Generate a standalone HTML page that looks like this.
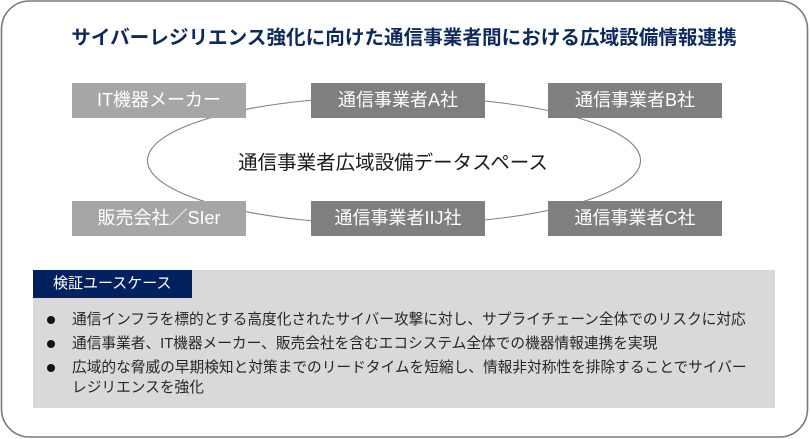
<!DOCTYPE html>
<html><head><meta charset="utf-8">
<style>
html,body{margin:0;padding:0;background:#fff;}
body{width:810px;height:439px;position:relative;overflow:hidden;font-family:"Liberation Sans","Noto Sans CJK JP",sans-serif;}
.abs{position:absolute;white-space:nowrap;}
.box{position:absolute;height:35px;width:174px;color:#fff;font-size:18px;line-height:35px;text-align:center;}
.lt{background:#a6a6a6;}
.dk{background:#7f7f7f;}
.title{left:0;width:808px;top:26px;text-align:center;font-size:19.6px;line-height:24px;color:#0e2a5c;font-weight:bold;}
.center{left:0;width:786px;top:150px;text-align:center;font-size:19.5px;line-height:26px;color:#1a1a1a;}
.panel{left:33px;top:270px;width:742px;height:138px;background:#d9d9d9;}
.hdr{left:33px;top:270px;width:159px;height:28px;background:#002060;color:#fff;font-size:15px;line-height:28px;}
.hdr span{position:absolute;left:20px;top:0;}
.li{position:absolute;left:72px;font-size:14.7px;line-height:20px;color:#262626;}
.dot{position:absolute;left:47px;width:8px;height:8px;border-radius:50%;background:#111;}
</style></head><body>
<svg class="abs" style="left:0;top:0" width="810" height="439">
  <rect x="1.5" y="1" width="806" height="436" rx="28" ry="28" fill="#fff" stroke="#7a7a7a" stroke-width="1.6"/>
  <ellipse cx="394" cy="160.5" rx="246.5" ry="64" fill="none" stroke="#808080" stroke-width="1.1"/>
</svg>
<div class="abs title">サイバーレジリエンス強化に向けた通信事業者間における広域設備情報連携</div>

<div class="box lt" style="left:72px;top:83px;">IT機器メーカー</div>
<div class="box dk" style="left:311px;top:83px;">通信事業者A社</div>
<div class="box dk" style="left:548px;top:83px;">通信事業者B社</div>
<div class="box lt" style="left:72px;top:201px;">販売会社／SIer</div>
<div class="box dk" style="left:311px;top:201px;">通信事業者IIJ社</div>
<div class="box dk" style="left:548px;top:201px;">通信事業者C社</div>

<div class="abs center">通信事業者広域設備データスペース</div>

<div class="abs panel"></div>
<div class="abs hdr"><span>検証ユースケース</span></div>

<div class="dot" style="top:316px;"></div>
<div class="li" style="top:310px;">通信インフラを標的とする高度化されたサイバー攻撃に対し、サプライチェーン全体でのリスクに対応</div>
<div class="dot" style="top:340px;"></div>
<div class="li" style="top:334px;">通信事業者、IT機器メーカー、販売会社を含むエコシステム全体での機器情報連携を実現</div>
<div class="dot" style="top:364px;"></div>
<div class="li" style="top:358px;">広域的な脅威の早期検知と対策までのリードタイムを短縮し、情報非対称性を排除することでサイバー<br>レジリエンスを強化</div>
</body></html>
